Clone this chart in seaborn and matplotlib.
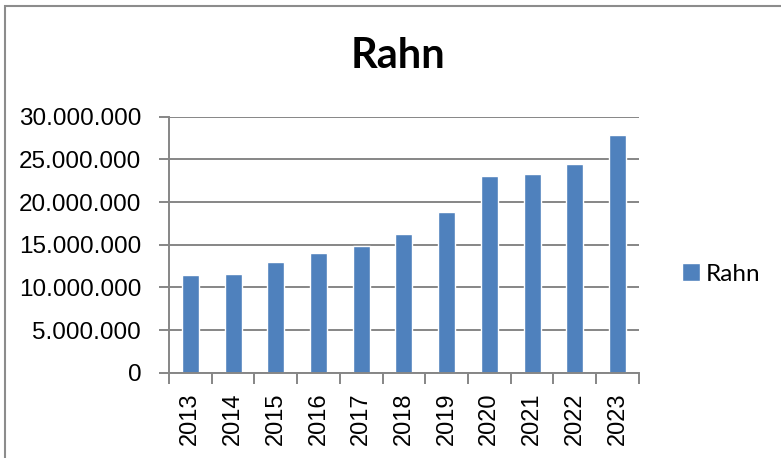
import numpy as np
import pandas as pd
import matplotlib
matplotlib.use("Agg")
import matplotlib.pyplot as plt
import seaborn as sns
from matplotlib.ticker import FuncFormatter, MultipleLocator, FixedLocator
from matplotlib.patches import Rectangle

# ── data ────────────────────────────────────────────────────
years = ["2013", "2014", "2015", "2016", "2017", "2018",
         "2019", "2020", "2021", "2022", "2023"]
rahn = [11_450_000, 11_620_000, 13_000_000, 14_020_000, 14_900_000, 16_240_000,
        18_800_000, 23_000_000, 23_320_000, 24_500_000, 27_800_000]
series_name = "Rahn"

df = pd.DataFrame({"Jahr": years, "Wert": rahn})

sns.set_style("white")
plt.rcParams["font.family"] = ["Liberation Sans", "DejaVu Sans"]
plt.rcParams["text.color"] = "black"
plt.rcParams["xtick.color"] = "black"
plt.rcParams["ytick.color"] = "black"

BLUE = "#4F81BD"
GRID = "#868686"

fig = plt.figure(figsize=(7.81, 4.58), dpi=100)
ax = fig.add_axes([0.2164, 0.1863, 0.6016, 0.5589])

sns.barplot(data=df, x="Jahr", y="Wert", color=BLUE, width=0.4,
            saturation=1, label=series_name, ax=ax)

ax.set_ylim(0, 30_000_000)
ax.set_xlim(-0.5, len(years) - 0.5)
ax.yaxis.set_major_locator(MultipleLocator(5_000_000))
ax.yaxis.set_major_formatter(FuncFormatter(lambda v, p: f"{int(v):,}".replace(",", ".")))
ax.grid(axis="y", color=GRID, linewidth=1.4)
ax.set_axisbelow(True)

for s in ["top", "right"]:
    ax.spines[s].set_visible(False)
for s in ["left", "bottom"]:
    ax.spines[s].set_color(GRID)
    ax.spines[s].set_linewidth(1.4)

ax.set_xlabel("")
ax.set_ylabel("")
ax.tick_params(axis="y", labelsize=17.5, labelcolor="black", length=7, width=1.4,
               color=GRID, left=True, pad=13)
ax.tick_params(axis="x", which="major", labelsize=17, labelcolor="black",
               length=0, rotation=90, pad=14)
ax.xaxis.set_minor_locator(FixedLocator(np.arange(-0.5, len(years), 1.0)))
ax.tick_params(axis="x", which="minor", length=8, width=1.4, color=GRID, bottom=True)

fig.text(0.5098, 0.878, "Rahn", ha="center", va="center", fontsize=30,
         fontweight="bold", color="black", family=["Lato", "DejaVu Sans"])

leg = ax.legend(loc="center left", bbox_to_anchor=(0.845, 0.402),
                bbox_transform=fig.transFigure, frameon=False,
                handlelength=0.75, handleheight=0.75, handletextpad=0.25,
                prop={"family": "Lato", "size": 17.5})
for t in leg.get_texts():
    t.set_color("black")

# thin frame around the chart area
fig.patches.append(Rectangle((5 / 781, -0.1), 1.2, 1 - 6 / 458 + 0.1,
                             transform=fig.transFigure, fill=False,
                             edgecolor="#8c8c8c", linewidth=1.5))

fig.savefig("out.png", dpi=100)
